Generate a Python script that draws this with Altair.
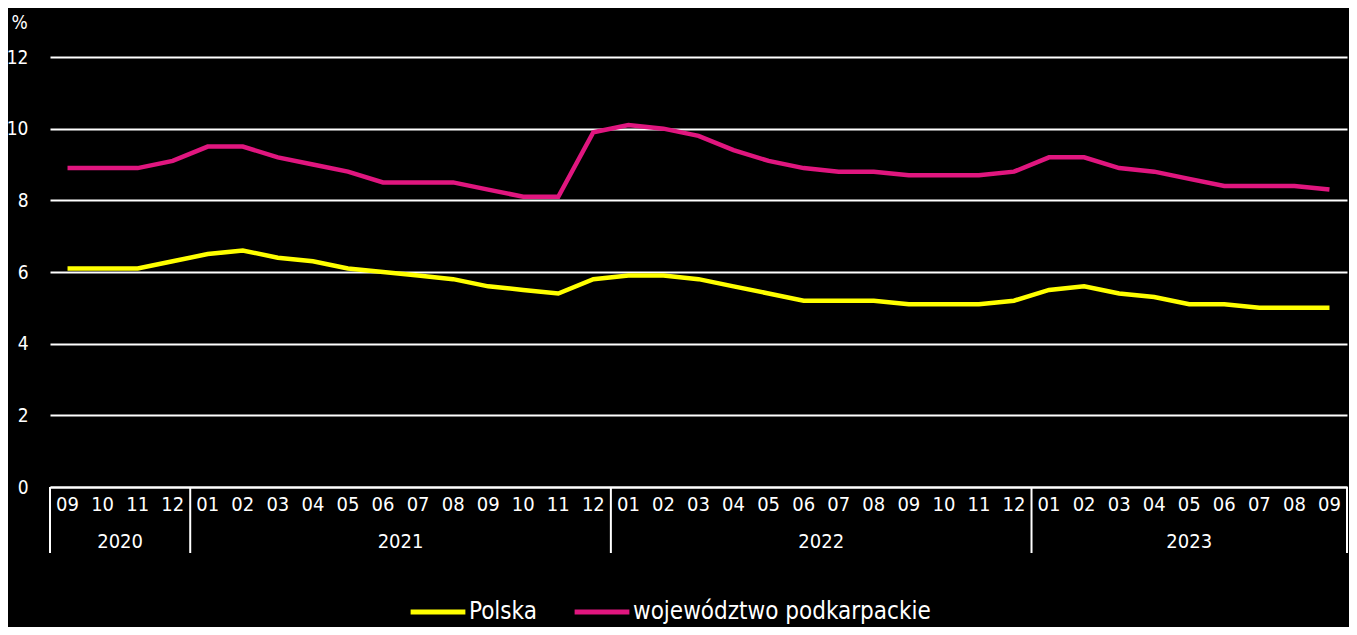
import altair as alt
import pandas as pd

months = ["09", "10", "11", "12",
          "01", "02", "03", "04", "05", "06", "07", "08", "09", "10", "11", "12",
          "01", "02", "03", "04", "05", "06", "07", "08", "09", "10", "11", "12",
          "01", "02", "03", "04", "05", "06", "07", "08", "09"]
years = ["2020"] * 4 + ["2021"] * 12 + ["2022"] * 12 + ["2023"] * 9

polska = [6.1, 6.1, 6.1, 6.3,
          6.5, 6.6, 6.4, 6.3, 6.1, 6.0, 5.9, 5.8, 5.6, 5.5, 5.4, 5.8,
          5.9, 5.9, 5.8, 5.6, 5.4, 5.2, 5.2, 5.2, 5.1, 5.1, 5.1, 5.2,
          5.5, 5.6, 5.4, 5.3, 5.1, 5.1, 5.0, 5.0, 5.0]
podkarpackie = [8.9, 8.9, 8.9, 9.1,
                9.5, 9.5, 9.2, 9.0, 8.8, 8.5, 8.5, 8.5, 8.3, 8.1, 8.1, 9.9,
                10.1, 10.0, 9.8, 9.4, 9.1, 8.9, 8.8, 8.8, 8.7, 8.7, 8.7, 8.8,
                9.2, 9.2, 8.9, 8.8, 8.6, 8.4, 8.4, 8.4, 8.3]

series_names = ["Polska", "województwo podkarpackie"]
series_colors = ["#FFFF00", "#E0167F"]
y_ticks = [0, 2, 4, 6, 8, 10, 12]

FONT = "DejaVu Sans Condensed"
W, H = 1297, 430

idx = list(range(len(months)))
rows = []
for i in idx:
    rows.append({"i": i, "serie": series_names[0], "v": polska[i]})
    rows.append({"i": i, "serie": series_names[1], "v": podkarpackie[i]})
df = pd.DataFrame(rows)

mdf = pd.DataFrame({"i": idx, "m": months, "y": years})
ydf = mdf.groupby("y", as_index=False)["i"].mean()
bounds = [-0.5]
for k in range(1, len(years)):
    if years[k] != years[k - 1]:
        bounds.append(k - 0.5)
bounds.append(len(years) - 0.5)
bdf = pd.DataFrame({"b": bounds})

xscale = alt.Scale(domain=[-0.5, len(months) - 0.5], nice=False, zero=False)

lines = alt.Chart(df).mark_line(strokeWidth=4.5).encode(
    x=alt.X("i:Q", scale=xscale,
            axis=alt.Axis(labels=False, ticks=False, grid=False, title=None,
                          domain=True, domainColor="white", domainWidth=2)),
    y=alt.Y("v:Q", scale=alt.Scale(domain=[0, 12], nice=False),
            axis=alt.Axis(values=y_ticks, grid=True, gridColor="white", gridWidth=2,
                          domain=False, ticks=False, labelColor="white",
                          labelFontSize=19, labelFont=FONT, labelPadding=22,
                          title="%", titleAngle=0, titleAlign="left", titleX=-39,
                          titleY=-29, titleBaseline="alphabetic", titleColor="white",
                          titleFontSize=19, titleFont=FONT, titleFontWeight="normal")),
    color=alt.Color("serie:N", scale=alt.Scale(domain=series_names, range=series_colors),
                    legend=alt.Legend(orient="none", legendX=358, legendY=525,
                                      direction="horizontal", title=None,
                                      symbolType="stroke", symbolSize=3000,
                                      symbolStrokeWidth=5, labelColor="white",
                                      labelFontSize=24, labelFont=FONT, labelLimit=500,
                                      columnPadding=27, labelOffset=1)),
    order="i:Q",
)

month_text = alt.Chart(mdf).mark_text(color="white", fontSize=20, font=FONT,
                                      baseline="middle").encode(
    x=alt.X("i:Q", scale=xscale), y=alt.value(H + 18), text="m:N")

year_text = alt.Chart(ydf).mark_text(color="white", fontSize=20, font=FONT,
                                     baseline="middle").encode(
    x=alt.X("i:Q", scale=xscale), y=alt.value(H + 55), text="y:N")

seps = alt.Chart(bdf).mark_rule(color="white", strokeWidth=2).encode(
    x=alt.X("b:Q", scale=xscale), y=alt.value(H), y2=alt.value(H + 66))

chart = alt.layer(lines, month_text, year_text, seps).properties(
    width=W, height=H,
    autosize=alt.AutoSizeParams(type="none"),
    padding={"left": 42, "top": 49, "right": 2, "bottom": 140},
    background="black",
).configure_view(stroke=None)

chart.save("out.html", embed_options={"renderer": "svg", "actions": False})
